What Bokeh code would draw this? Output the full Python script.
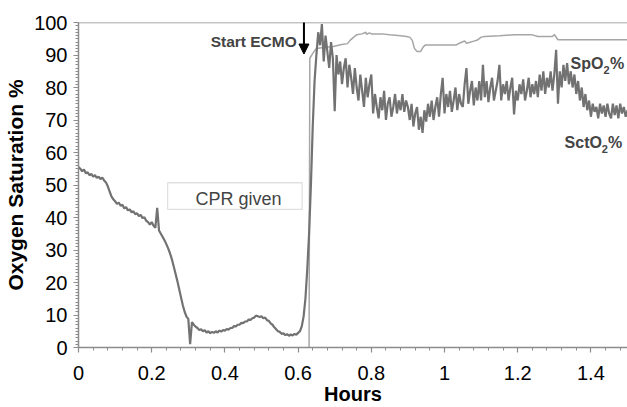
from bokeh.plotting import figure
from bokeh.models import Range1d, FixedTicker, Label, Arrow, NormalHead, BoxAnnotation, Span
from bokeh.embed import file_html
from bokeh.resources import INLINE

# ---- data ----
sct_t = [
    0.000, 0.005, 0.010, 0.015, 0.020, 0.025, 0.030, 0.035, 0.040, 0.045,
    0.050, 0.055, 0.060, 0.065, 0.070, 0.075, 0.080, 0.085, 0.090, 0.095,
    0.100, 0.105, 0.110, 0.115, 0.120, 0.125, 0.130, 0.135, 0.140, 0.145,
    0.150, 0.155, 0.160, 0.165, 0.170, 0.175, 0.180, 0.185, 0.190, 0.195,
    0.200, 0.205, 0.210, 0.215, 0.220, 0.225, 0.230, 0.235, 0.240, 0.245,
    0.250, 0.255, 0.260, 0.265, 0.270, 0.275, 0.280, 0.285, 0.290, 0.295,
    0.300, 0.305, 0.310, 0.315, 0.320, 0.325, 0.330, 0.335, 0.340, 0.345,
    0.350, 0.355, 0.360, 0.365, 0.370, 0.375, 0.380, 0.385, 0.390, 0.395,
    0.400, 0.405, 0.410, 0.415, 0.420, 0.425, 0.430, 0.435, 0.440, 0.445,
    0.450, 0.455, 0.460, 0.465, 0.470, 0.475, 0.480, 0.485, 0.490, 0.495,
    0.500, 0.505, 0.510, 0.515, 0.520, 0.525, 0.530, 0.535, 0.540, 0.545,
    0.550, 0.555, 0.560, 0.565, 0.570, 0.575, 0.580, 0.585, 0.590, 0.595,
    0.600, 0.605, 0.610, 0.615, 0.620, 0.625, 0.630, 0.635, 0.640, 0.645,
    0.650, 0.655, 0.660, 0.665, 0.670, 0.675, 0.680, 0.685, 0.690, 0.695,
    0.700, 0.705, 0.710, 0.715, 0.720, 0.725, 0.730, 0.735, 0.740, 0.745,
    0.750, 0.755, 0.760, 0.765, 0.770, 0.775, 0.780, 0.785, 0.790, 0.795,
    0.800, 0.805, 0.810, 0.815, 0.820, 0.825, 0.830, 0.835, 0.840, 0.845,
    0.850, 0.855, 0.860, 0.865, 0.870, 0.875, 0.880, 0.885, 0.890, 0.895,
    0.900, 0.905, 0.910, 0.915, 0.920, 0.925, 0.930, 0.935, 0.940, 0.945,
    0.950, 0.955, 0.960, 0.965, 0.970, 0.975, 0.980, 0.985, 0.990, 0.995,
    1.000, 1.005, 1.010, 1.015, 1.020, 1.025, 1.030, 1.035, 1.040, 1.045,
    1.050, 1.055, 1.060, 1.065, 1.070, 1.075, 1.080, 1.085, 1.090, 1.095,
    1.100, 1.105, 1.110, 1.115, 1.120, 1.125, 1.130, 1.135, 1.140, 1.145,
    1.150, 1.155, 1.160, 1.165, 1.170, 1.175, 1.180, 1.185, 1.190, 1.195,
    1.200, 1.205, 1.210, 1.215, 1.220, 1.225, 1.230, 1.235, 1.240, 1.245,
    1.250, 1.255, 1.260, 1.265, 1.270, 1.275, 1.280, 1.285, 1.290, 1.295,
    1.300, 1.305, 1.310, 1.315, 1.320, 1.325, 1.330, 1.335, 1.340, 1.345,
    1.350, 1.355, 1.360, 1.365, 1.370, 1.375, 1.380, 1.385, 1.390, 1.395,
    1.400, 1.405, 1.410, 1.415, 1.420, 1.425, 1.430, 1.435, 1.440, 1.445,
    1.450, 1.455, 1.460, 1.465, 1.470, 1.475, 1.480, 1.485, 1.490, 1.495,
    1.500,
]
sct_v = [
    55.5, 55.0, 54.2, 54.8, 53.6, 53.9, 53.0, 53.4, 52.6, 53.0,
    52.2, 52.6, 51.8, 52.3, 51.4, 50.8, 49.6, 48.0, 46.5, 45.6,
    45.0, 44.2, 44.6, 43.6, 43.9, 42.8, 43.2, 42.2, 42.5, 41.6,
    41.9, 41.0, 41.3, 40.4, 40.8, 39.8, 40.1, 39.0, 38.6, 37.8,
    38.6, 37.5, 36.8, 43.0, 36.0, 35.0, 34.0, 33.0, 31.8, 30.5,
    29.0, 27.2, 25.0, 22.8, 20.5, 18.0, 15.5, 13.0, 11.0, 9.5,
    8.8, 1.0, 7.8, 7.0, 6.4, 6.0, 5.4, 5.6, 5.0, 5.3,
    4.6, 5.0, 4.4, 4.8, 4.5, 5.0, 4.6, 5.2, 4.9, 5.4,
    5.2, 5.7, 5.5, 6.0, 6.0, 6.6, 6.5, 7.0, 7.0, 7.6,
    7.5, 8.0, 8.0, 8.6, 8.5, 9.0, 9.2, 9.8, 9.6, 9.4,
    9.6, 9.0, 9.2, 8.4, 8.2, 7.4, 7.0, 6.2, 5.6, 5.0,
    4.8, 4.2, 4.4, 3.8, 4.1, 3.6, 4.0, 3.7, 4.2, 3.9,
    4.5, 5.0, 6.5, 9.5, 15.0, 24.0, 35.0, 50.0, 68.0, 82.0,
    90, 97, 93, 99.5, 88, 96, 91, 86, 94, 89,
    72.7, 90, 84, 88, 81, 86, 89, 80, 87, 83,
    78, 86, 80, 76, 84, 79, 74, 83, 77, 81,
    84, 72, 78, 74, 70.5, 77, 73, 79, 70, 75,
    77, 71, 74, 78, 72, 76, 73, 78, 72.5, 76,
    74, 70, 75, 68, 72, 74, 67, 71, 66, 73,
    69.5, 75, 71, 76, 70, 74, 77, 71, 78, 83,
    72, 78, 74, 79, 72.5, 76, 80, 73, 78, 75,
    74, 81, 86, 75, 79, 82, 74.5, 80, 76, 82,
    76, 87, 77, 82, 75.5, 80, 83, 76, 79, 82,
    87, 76, 81, 78, 82, 76, 80, 83, 71.7, 79,
    76, 81, 78, 82.5, 76, 79, 83, 77, 81, 78,
    82, 77, 84, 79, 85, 78, 83, 80, 85, 79,
    84, 91.6, 75, 85, 80, 87, 82, 87.5, 81, 85,
    80, 84, 78, 82, 76, 80, 74, 78, 73, 76,
    71, 75, 72.5, 74, 70.5, 75, 72, 74.5, 71, 75,
    72, 70.5, 75, 71.5, 74.5, 70.5, 75, 72, 74, 71,
    73,
]
spo_t = [0.630, 0.632, 0.640, 0.650, 0.670, 0.696, 0.719, 0.735, 0.742, 0.752,
         0.760, 0.775, 0.785, 0.787, 0.795, 0.800, 0.830, 0.850, 0.880, 0.896,
         0.905, 0.912, 0.918, 0.925, 0.935, 0.942, 0.948, 0.970, 1.000, 1.032,
         1.042, 1.055, 1.060, 1.070, 1.078, 1.090, 1.100, 1.110, 1.150, 1.190,
         1.240, 1.255, 1.295, 1.300, 1.310, 1.500]
spo_v = [0, 89, 90.5, 92, 92.3, 92.6, 93.2, 93.5, 94.5, 95.5,
         96.2, 96.5, 97.0, 96.4, 96.8, 96.5, 96.5, 96.2, 95.9, 95.7,
         95.5, 94.5, 92.0, 91.1, 91.1, 92.5, 93.1, 93.1, 93.1, 93.1,
         93.7, 94.3, 93.6, 93.9, 94.2, 94.6, 95.5, 95.7, 95.9, 96.2,
         96.2, 95.7, 95.7, 96.3, 94.7, 94.7]

x_ticks = [0, 0.2, 0.4, 0.6, 0.8, 1, 1.2, 1.4]
x_tick_labels = ["0", "0.2", "0.4", "0.6", "0.8", "1", "1.2", "1.4"]
y_ticks = [0, 10, 20, 30, 40, 50, 60, 70, 80, 90, 100]
x_minor = [round(i * 0.04, 2) for i in range(0, 38)]
y_minor = list(range(0, 101))

FONT = "Liberation Sans"
AX = "#8c8c8c"

p = figure(width=627, height=407, output_backend="svg", toolbar_location=None,
           x_range=Range1d(0, 1.5), y_range=Range1d(0, 100),
           min_border_left=78, min_border_right=0, min_border_top=22, min_border_bottom=60)
p.outline_line_color = None
p.xgrid.visible = False
p.ygrid.visible = False
p.background_fill_color = "white"
p.border_fill_color = "white"

p.xaxis.ticker = FixedTicker(ticks=x_ticks, minor_ticks=x_minor)
p.xaxis.major_label_overrides = {t: l for t, l in zip(x_ticks, x_tick_labels)}
p.yaxis.ticker = FixedTicker(ticks=y_ticks, minor_ticks=y_minor)

for ax in (p.xaxis, p.yaxis):
    ax.axis_line_color = AX
    ax.axis_line_width = 1.5
    ax.major_tick_line_color = AX
    ax.minor_tick_line_color = AX
    ax.major_tick_line_width = 1.2
    ax.minor_tick_line_width = 1
    ax.major_tick_in = 0
    ax.major_tick_out = 5
    ax.minor_tick_in = 0
    ax.minor_tick_out = 3
    ax.major_label_text_font = FONT
    ax.major_label_text_font_size = "20px"
    ax.major_label_text_color = "black"
    ax.axis_label_text_font = FONT
    ax.axis_label_text_font_style = "bold"
    ax.axis_label_text_color = "black"

p.xaxis.axis_label = "Hours"
p.yaxis.axis_label = "Oxygen Saturation %"
p.xaxis.axis_label_text_font_size = "20px"
p.yaxis.axis_label_text_font_size = "21px"
p.xaxis.major_label_standoff = 13
p.xaxis.axis_label_standoff = 0
p.yaxis.major_label_standoff = 6
p.yaxis.axis_label_standoff = 4

p.add_layout(Span(location=100, dimension="width", line_color=AX, line_width=1.5))

p.line(spo_t, spo_v, line_color="#a6a6a6", line_width=1.5)
p.line(sct_t, sct_v, line_color="#727272", line_width=2.2)

p.add_layout(BoxAnnotation(left=0.2435, right=0.611, bottom=42.5, top=50.7,
                           fill_alpha=0, line_color="#999999", line_width=1.3))
p.add_layout(Label(x=0.437, y=45.6, text="CPR given", text_align="center",
                   text_baseline="alphabetic", text_font=FONT, text_font_size="18px"))

p.add_layout(Arrow(end=NormalHead(size=10, fill_color="black", line_color="black"),
                   x_start=0.616, y_start=101.3, x_end=0.616, y_end=90.3,
                   line_color="black", line_width=2))
p.add_layout(Label(x=0.5964, y=94.2, text="Start ECMO", text_align="right",
                   text_baseline="alphabetic", text_font=FONT, text_font_size="15.5px",
                   text_font_style="bold"))

def add_label(x0, ybase, main, sub, xsub, xpct, ysub):
    p.add_layout(Label(x=x0, y=ybase, text=main, text_baseline="alphabetic",
                       text_font=FONT, text_font_size="16px", text_font_style="bold"))
    p.add_layout(Label(x=xsub, y=ysub, text=sub, text_baseline="alphabetic",
                       text_font=FONT, text_font_size="11px", text_font_style="bold"))
    p.add_layout(Label(x=xpct, y=ybase, text="%", text_baseline="alphabetic",
                       text_font=FONT, text_font_size="16px", text_font_style="bold"))

add_label(1.3444, 87.5, "SpO", "2", 1.4344, 1.4522, 85.5)
add_label(1.3281, 63.2, "SctO", "2", 1.4298, 1.4467, 61.1)

open("out.html", "w").write(file_html(p, INLINE))
